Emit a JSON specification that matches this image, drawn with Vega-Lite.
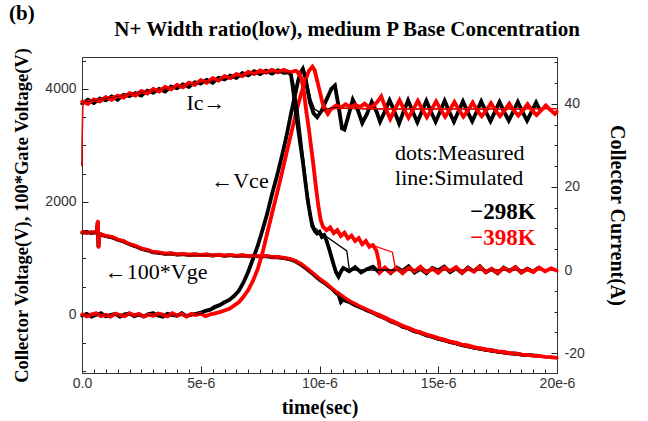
{
"$schema": "https://vega.github.io/schema/vega-lite/v6.json",
"width": 475, "height": 316,
"autosize": {"type": "none"},
"padding": {"left": 82, "top": 57, "right": 91, "bottom": 48},
"background": "white",
"config": {
 "view": {"stroke": "#333", "strokeWidth": 1},
 "axis": {"grid": false, "labelFont": "Liberation Sans", "labelFontSize": 14, "labelColor": "#333", "tickColor": "#222", "tickWidth": 1, "domainColor": "#333", "titleFont": "Liberation Serif", "titleFontWeight": "bold", "titleColor": "#000", "labelFlush": false, "labelOverlap": false, "labelSeparation": 0}
},
"datasets": {
 "m298": [
{"s":"c","t":0,"v":-15},{"s":"c","t":0.2,"v":20},{"s":"c","t":0.4,"v":-30},{"s":"c","t":0.6,"v":5},{"s":"c","t":0.8,"v":30},{"s":"c","t":1,"v":-20},{"s":"c","t":1.2,"v":0},{"s":"c","t":1.4,"v":20},{"s":"c","t":1.6,"v":-30},{"s":"c","t":1.8,"v":10},{"s":"c","t":2,"v":25},{"s":"c","t":2.2,"v":-20},{"s":"c","t":2.4,"v":5},{"s":"c","t":2.6,"v":-25},{"s":"c","t":2.8,"v":15},{"s":"c","t":3,"v":30},{"s":"c","t":3.2,"v":-10},{"s":"c","t":3.4,"v":-30},{"s":"c","t":3.6,"v":20},{"s":"c","t":3.8,"v":0},{"s":"c","t":4,"v":-15},{"s":"c","t":4.2,"v":30},{"s":"c","t":4.4,"v":-20},{"s":"c","t":4.6,"v":5},{"s":"c","t":4.8,"v":20},
{"s":"c","t":5,"v":40},{"s":"c","t":5.2,"v":75},{"s":"c","t":5.4,"v":95},{"s":"c","t":5.6,"v":145},{"s":"c","t":5.8,"v":175},{"s":"c","t":6,"v":225},{"s":"c","t":6.2,"v":265},{"s":"c","t":6.4,"v":335},{"s":"c","t":6.6,"v":425},{"s":"c","t":6.8,"v":575},{"s":"c","t":7,"v":765},{"s":"c","t":7.2,"v":995},{"s":"c","t":7.4,"v":1225},{"s":"c","t":7.6,"v":1505},{"s":"c","t":7.8,"v":1795},{"s":"c","t":8,"v":2135},{"s":"c","t":8.2,"v":2445},{"s":"c","t":8.4,"v":2785},{"s":"c","t":8.6,"v":3145},{"s":"c","t":8.8,"v":3565},{"s":"c","t":9,"v":3955},{"s":"c","t":9.1,"v":4145},{"s":"c","t":9.2,"v":4285},{"s":"c","t":9.3,"v":4355},{"s":"c","t":9.4,"v":4220},{"s":"c","t":9.5,"v":3980},{"s":"c","t":9.6,"v":3760},{"s":"c","t":9.75,"v":3570},{"s":"c","t":9.9,"v":3500},{"s":"c","t":10.1,"v":3620},{"s":"c","t":10.3,"v":3820},{"s":"c","t":10.5,"v":4000},{"s":"c","t":10.65,"v":4060},{"s":"c","t":10.8,"v":3700},{"s":"c","t":10.95,"v":3300},{"s":"c","t":11.05,"v":3280},{"s":"c","t":11.2,"v":3500},{"s":"c","t":11.4,"v":3810},{"s":"c","t":11.6,"v":3640},{"s":"c","t":11.8,"v":3400},{"s":"c","t":12,"v":3560},{"s":"c","t":12.2,"v":3770},{"s":"c","t":12.4,"v":3600},{"s":"c","t":12.55,"v":3420},{"s":"c","t":12.75,"v":3600},{"s":"c","t":12.95,"v":3800},{"s":"c","t":13.15,"v":3610},{"s":"c","t":13.35,"v":3390},{"s":"c","t":13.54,"v":3600},{"s":"c","t":13.73,"v":3800},{"s":"c","t":13.92,"v":3600},{"s":"c","t":14.12,"v":3410},{"s":"c","t":14.31,"v":3600},{"s":"c","t":14.5,"v":3790},{"s":"c","t":14.69,"v":3600},{"s":"c","t":14.89,"v":3420},{"s":"c","t":15.08,"v":3600},{"s":"c","t":15.27,"v":3790},{"s":"c","t":15.46,"v":3600},{"s":"c","t":15.66,"v":3420},{"s":"c","t":15.85,"v":3600},{"s":"c","t":16.04,"v":3780},{"s":"c","t":16.23,"v":3600},{"s":"c","t":16.43,"v":3430},{"s":"c","t":16.62,"v":3600},{"s":"c","t":16.81,"v":3780},{"s":"c","t":17,"v":3600},{"s":"c","t":17.2,"v":3430},{"s":"c","t":17.39,"v":3600},{"s":"c","t":17.58,"v":3770},{"s":"c","t":17.77,"v":3600},{"s":"c","t":17.97,"v":3440},{"s":"c","t":18.16,"v":3600},{"s":"c","t":18.35,"v":3770},{"s":"c","t":18.54,"v":3600},{"s":"c","t":18.74,"v":3440},{"s":"c","t":18.93,"v":3600},{"s":"c","t":19.12,"v":3760},{"s":"c","t":19.25,"v":3650},
{"s":"g","t":0,"v":1455},{"s":"g","t":0.2,"v":1470},{"s":"g","t":0.4,"v":1450},{"s":"g","t":0.55,"v":1465},{"s":"g","t":0.62,"v":1480},{"s":"g","t":0.66,"v":1640},{"s":"g","t":0.69,"v":1210},{"s":"g","t":0.72,"v":1380},{"s":"g","t":0.8,"v":1420},{"s":"g","t":1,"v":1395},{"s":"g","t":1.25,"v":1375},{"s":"g","t":1.5,"v":1330},{"s":"g","t":1.75,"v":1300},{"s":"g","t":2,"v":1250},{"s":"g","t":2.25,"v":1215},{"s":"g","t":2.5,"v":1170},{"s":"g","t":2.75,"v":1145},{"s":"g","t":3,"v":1110},{"s":"g","t":3.25,"v":1100},{"s":"g","t":3.5,"v":1080},{"s":"g","t":3.75,"v":1085},{"s":"g","t":4,"v":1068},{"s":"g","t":4.25,"v":1075},{"s":"g","t":4.5,"v":1062},{"s":"g","t":4.75,"v":1070},{"s":"g","t":5,"v":1058},{"s":"g","t":5.25,"v":1066},{"s":"g","t":5.5,"v":1052},{"s":"g","t":5.75,"v":1062},{"s":"g","t":6,"v":1048},{"s":"g","t":6.25,"v":1058},{"s":"g","t":6.5,"v":1043},{"s":"g","t":6.75,"v":1053},{"s":"g","t":7,"v":1038},{"s":"g","t":7.25,"v":1048},{"s":"g","t":7.5,"v":1032},{"s":"g","t":7.75,"v":1040},{"s":"g","t":8,"v":1022},{"s":"g","t":8.25,"v":1020},{"s":"g","t":8.5,"v":1005},{"s":"g","t":8.75,"v":985},{"s":"g","t":9,"v":945},{"s":"g","t":9.25,"v":880},{"s":"g","t":9.5,"v":800},{"s":"g","t":9.75,"v":715},{"s":"g","t":10,"v":625},{"s":"g","t":10.25,"v":555},{"s":"g","t":10.5,"v":475},{"s":"g","t":10.7,"v":390},{"s":"g","t":10.8,"v":360},{"s":"g","t":10.9,"v":230},{"s":"g","t":11,"v":280},{"s":"g","t":11.1,"v":250},{"s":"g","t":11.3,"v":220},{"s":"g","t":11.5,"v":170},{"s":"g","t":11.75,"v":130},{"s":"g","t":12,"v":80},{"s":"g","t":12.25,"v":40},{"s":"g","t":12.5,"v":-15},{"s":"g","t":12.75,"v":-50},{"s":"g","t":13,"v":-115},{"s":"g","t":13.25,"v":-150},{"s":"g","t":13.5,"v":-210},{"s":"g","t":13.75,"v":-240},{"s":"g","t":14,"v":-290},{"s":"g","t":14.25,"v":-315},{"s":"g","t":14.5,"v":-360},{"s":"g","t":14.75,"v":-385},{"s":"g","t":15,"v":-425},{"s":"g","t":15.25,"v":-445},{"s":"g","t":15.5,"v":-480},{"s":"g","t":15.75,"v":-500},{"s":"g","t":16,"v":-535},{"s":"g","t":16.25,"v":-550},{"s":"g","t":16.5,"v":-580},{"s":"g","t":16.75,"v":-595},{"s":"g","t":17,"v":-615},{"s":"g","t":17.25,"v":-630},{"s":"g","t":17.5,"v":-650},{"s":"g","t":17.75,"v":-660},{"s":"g","t":18,"v":-675},{"s":"g","t":18.25,"v":-685},{"s":"g","t":18.5,"v":-700},{"s":"g","t":18.75,"v":-705},{"s":"g","t":19,"v":-715},{"s":"g","t":19.2,"v":-720}
 ],
 "m398": [
{"s":"c","t":0,"v":15},{"s":"c","t":0.2,"v":-25},{"s":"c","t":0.4,"v":10},{"s":"c","t":0.6,"v":30},{"s":"c","t":0.8,"v":-20},{"s":"c","t":1,"v":5},{"s":"c","t":1.2,"v":-30},{"s":"c","t":1.4,"v":20},{"s":"c","t":1.6,"v":0},{"s":"c","t":1.8,"v":-20},{"s":"c","t":2,"v":30},{"s":"c","t":2.2,"v":-5},{"s":"c","t":2.4,"v":20},{"s":"c","t":2.6,"v":-30},{"s":"c","t":2.8,"v":5},{"s":"c","t":3,"v":-15},{"s":"c","t":3.2,"v":25},{"s":"c","t":3.4,"v":5},{"s":"c","t":3.6,"v":-25},{"s":"c","t":3.8,"v":30},{"s":"c","t":4,"v":-10},{"s":"c","t":4.2,"v":15},{"s":"c","t":4.4,"v":-30},{"s":"c","t":4.6,"v":20},{"s":"c","t":4.8,"v":0},{"s":"c","t":5,"v":25},{"s":"c","t":5.2,"v":-20},{"s":"c","t":5.4,"v":10},
{"s":"c","t":5.6,"v":30},{"s":"c","t":5.8,"v":50},{"s":"c","t":6,"v":80},{"s":"c","t":6.2,"v":110},{"s":"c","t":6.4,"v":165},{"s":"c","t":6.6,"v":225},{"s":"c","t":6.8,"v":325},{"s":"c","t":7,"v":440},{"s":"c","t":7.2,"v":605},{"s":"c","t":7.4,"v":815},{"s":"c","t":7.6,"v":1100},{"s":"c","t":7.8,"v":1450},{"s":"c","t":8,"v":1800},{"s":"c","t":8.2,"v":2135},{"s":"c","t":8.4,"v":2480},{"s":"c","t":8.6,"v":2845},{"s":"c","t":8.8,"v":3200},{"s":"c","t":9,"v":3555},{"s":"c","t":9.2,"v":3880},{"s":"c","t":9.4,"v":4150},{"s":"c","t":9.55,"v":4320},{"s":"c","t":9.7,"v":4395},{"s":"c","t":9.8,"v":4330},{"s":"c","t":9.9,"v":4150},{"s":"c","t":10,"v":3980},{"s":"c","t":10.1,"v":3800},{"s":"c","t":10.2,"v":3650},{"s":"c","t":10.35,"v":3560},{"s":"c","t":10.5,"v":3650},{"s":"c","t":10.7,"v":3710},{"s":"c","t":10.9,"v":3670},{"s":"c","t":11.1,"v":3730},{"s":"c","t":11.3,"v":3680},{"s":"c","t":11.5,"v":3720},{"s":"c","t":11.7,"v":3680},{"s":"c","t":11.9,"v":3740},{"s":"c","t":12.1,"v":3670},{"s":"c","t":12.3,"v":3710},{"s":"c","t":12.45,"v":3780},{"s":"c","t":12.6,"v":3870},{"s":"c","t":12.79,"v":3650},{"s":"c","t":12.98,"v":3470},{"s":"c","t":13.17,"v":3640},{"s":"c","t":13.37,"v":3800},{"s":"c","t":13.56,"v":3640},{"s":"c","t":13.75,"v":3490},{"s":"c","t":13.94,"v":3630},{"s":"c","t":14.14,"v":3790},{"s":"c","t":14.33,"v":3640},{"s":"c","t":14.52,"v":3500},{"s":"c","t":14.71,"v":3630},{"s":"c","t":14.91,"v":3780},{"s":"c","t":15.1,"v":3640},{"s":"c","t":15.29,"v":3510},{"s":"c","t":15.48,"v":3630},{"s":"c","t":15.68,"v":3770},{"s":"c","t":15.87,"v":3630},{"s":"c","t":16.06,"v":3510},{"s":"c","t":16.25,"v":3620},{"s":"c","t":16.45,"v":3760},{"s":"c","t":16.64,"v":3620},{"s":"c","t":16.83,"v":3520},{"s":"c","t":17.02,"v":3620},{"s":"c","t":17.22,"v":3750},{"s":"c","t":17.41,"v":3620},{"s":"c","t":17.6,"v":3520},{"s":"c","t":17.79,"v":3620},{"s":"c","t":17.99,"v":3740},{"s":"c","t":18.18,"v":3620},{"s":"c","t":18.37,"v":3530},{"s":"c","t":18.56,"v":3620},{"s":"c","t":18.76,"v":3730},{"s":"c","t":18.95,"v":3620},{"s":"c","t":19.14,"v":3540},{"s":"c","t":19.33,"v":3620},{"s":"c","t":19.53,"v":3710},{"s":"c","t":19.72,"v":3630},{"s":"c","t":19.91,"v":3560},{"s":"c","t":20,"v":3600},
{"s":"g","t":0,"v":1470},{"s":"g","t":0.2,"v":1450},{"s":"g","t":0.4,"v":1465},{"s":"g","t":0.55,"v":1455},{"s":"g","t":0.63,"v":1500},{"s":"g","t":0.67,"v":1660},{"s":"g","t":0.7,"v":1200},{"s":"g","t":0.73,"v":1400},{"s":"g","t":0.8,"v":1430},{"s":"g","t":1,"v":1400},{"s":"g","t":1.25,"v":1385},{"s":"g","t":1.5,"v":1335},{"s":"g","t":1.75,"v":1310},{"s":"g","t":2,"v":1255},{"s":"g","t":2.25,"v":1225},{"s":"g","t":2.5,"v":1175},{"s":"g","t":2.75,"v":1155},{"s":"g","t":3,"v":1115},{"s":"g","t":3.25,"v":1108},{"s":"g","t":3.5,"v":1085},{"s":"g","t":3.75,"v":1092},{"s":"g","t":4,"v":1072},{"s":"g","t":4.25,"v":1080},{"s":"g","t":4.5,"v":1066},{"s":"g","t":4.75,"v":1074},{"s":"g","t":5,"v":1062},{"s":"g","t":5.25,"v":1070},{"s":"g","t":5.5,"v":1056},{"s":"g","t":5.75,"v":1066},{"s":"g","t":6,"v":1052},{"s":"g","t":6.25,"v":1062},{"s":"g","t":6.5,"v":1047},{"s":"g","t":6.75,"v":1057},{"s":"g","t":7,"v":1042},{"s":"g","t":7.25,"v":1052},{"s":"g","t":7.5,"v":1036},{"s":"g","t":7.75,"v":1044},{"s":"g","t":8,"v":1028},{"s":"g","t":8.25,"v":1026},{"s":"g","t":8.5,"v":1012},{"s":"g","t":8.75,"v":995},{"s":"g","t":9,"v":955},{"s":"g","t":9.25,"v":895},{"s":"g","t":9.5,"v":815},{"s":"g","t":9.75,"v":730},{"s":"g","t":10,"v":640},{"s":"g","t":10.25,"v":565},{"s":"g","t":10.5,"v":475},{"s":"g","t":10.75,"v":395},{"s":"g","t":11,"v":320},{"s":"g","t":11.25,"v":250},{"s":"g","t":11.5,"v":195},{"s":"g","t":11.75,"v":140},{"s":"g","t":12,"v":95},{"s":"g","t":12.25,"v":45},{"s":"g","t":12.5,"v":5},{"s":"g","t":12.75,"v":-45},{"s":"g","t":13,"v":-95},{"s":"g","t":13.25,"v":-140},{"s":"g","t":13.5,"v":-190},{"s":"g","t":13.75,"v":-230},{"s":"g","t":14,"v":-275},{"s":"g","t":14.25,"v":-305},{"s":"g","t":14.5,"v":-345},{"s":"g","t":14.75,"v":-375},{"s":"g","t":15,"v":-410},{"s":"g","t":15.25,"v":-435},{"s":"g","t":15.5,"v":-470},{"s":"g","t":15.75,"v":-490},{"s":"g","t":16,"v":-525},{"s":"g","t":16.25,"v":-540},{"s":"g","t":16.5,"v":-570},{"s":"g","t":16.75,"v":-585},{"s":"g","t":17,"v":-610},{"s":"g","t":17.25,"v":-620},{"s":"g","t":17.5,"v":-645},{"s":"g","t":17.75,"v":-655},{"s":"g","t":18,"v":-675},{"s":"g","t":18.25,"v":-680},{"s":"g","t":18.5,"v":-700},{"s":"g","t":18.75,"v":-705},{"s":"g","t":19,"v":-720},{"s":"g","t":19.25,"v":-725},{"s":"g","t":19.5,"v":-740},{"s":"g","t":19.75,"v":-745},{"s":"g","t":20,"v":-760}
 ],
 "s298": [
{"s":"c","t":0,"v":0},{"s":"c","t":4.6,"v":0},{"s":"c","t":5,"v":25},{"s":"c","t":5.4,"v":75},{"s":"c","t":5.8,"v":150},{"s":"c","t":6.2,"v":260},{"s":"c","t":6.6,"v":440},{"s":"c","t":7,"v":760},{"s":"c","t":7.4,"v":1230},{"s":"c","t":7.8,"v":1810},{"s":"c","t":8.2,"v":2460},{"s":"c","t":8.6,"v":3160},{"s":"c","t":8.9,"v":3740},{"s":"c","t":9.1,"v":4130},{"s":"c","t":9.25,"v":4310},{"s":"c","t":9.35,"v":4320},{"s":"c","t":9.5,"v":4080},{"s":"c","t":9.65,"v":3800},{"s":"c","t":9.8,"v":3640},{"s":"c","t":10,"v":3590},{"s":"c","t":10.3,"v":3650},{"s":"c","t":10.6,"v":3670},{"s":"c","t":11,"v":3655},{"s":"c","t":12,"v":3650},{"s":"c","t":18.7,"v":3650},
{"s":"g","t":0,"v":1460},{"s":"g","t":0.65,"v":1460},{"s":"g","t":0.7,"v":1430},{"s":"g","t":1,"v":1395},{"s":"g","t":1.5,"v":1330},{"s":"g","t":2,"v":1250},{"s":"g","t":2.5,"v":1170},{"s":"g","t":3,"v":1110},{"s":"g","t":3.5,"v":1082},{"s":"g","t":4,"v":1070},{"s":"g","t":5,"v":1060},{"s":"g","t":6,"v":1050},{"s":"g","t":7,"v":1040},{"s":"g","t":8,"v":1025},{"s":"g","t":8.5,"v":1000},{"s":"g","t":9,"v":945},{"s":"g","t":9.5,"v":800},{"s":"g","t":10,"v":615},{"s":"g","t":10.5,"v":455},{"s":"g","t":11,"v":300},{"s":"g","t":11.5,"v":175},{"s":"g","t":12,"v":70},{"s":"g","t":12.5,"v":-35},{"s":"g","t":13,"v":-130},{"s":"g","t":13.5,"v":-220},{"s":"g","t":14,"v":-305},{"s":"g","t":14.5,"v":-375},{"s":"g","t":15,"v":-440},{"s":"g","t":15.5,"v":-500},{"s":"g","t":16,"v":-555},{"s":"g","t":16.5,"v":-600},{"s":"g","t":17,"v":-640},{"s":"g","t":17.5,"v":-672},{"s":"g","t":18,"v":-700},{"s":"g","t":18.7,"v":-722}
 ],
 "s398": [
{"s":"c","t":0,"v":0},{"s":"c","t":5.2,"v":0},{"s":"c","t":5.6,"v":25},{"s":"c","t":6,"v":70},{"s":"c","t":6.4,"v":150},{"s":"c","t":6.8,"v":290},{"s":"c","t":7.2,"v":570},{"s":"c","t":7.6,"v":1060},{"s":"c","t":8,"v":1730},{"s":"c","t":8.4,"v":2430},{"s":"c","t":8.8,"v":3160},{"s":"c","t":9.1,"v":3700},{"s":"c","t":9.35,"v":4120},{"s":"c","t":9.55,"v":4330},{"s":"c","t":9.7,"v":4370},{"s":"c","t":9.85,"v":4200},{"s":"c","t":10,"v":3950},{"s":"c","t":10.15,"v":3750},{"s":"c","t":10.35,"v":3630},{"s":"c","t":10.6,"v":3650},{"s":"c","t":11,"v":3665},{"s":"c","t":12,"v":3650},{"s":"c","t":20,"v":3650},
{"s":"g","t":0,"v":1465},{"s":"g","t":0.65,"v":1465},{"s":"g","t":0.7,"v":1435},{"s":"g","t":1,"v":1400},{"s":"g","t":1.5,"v":1335},{"s":"g","t":2,"v":1255},{"s":"g","t":2.5,"v":1175},{"s":"g","t":3,"v":1115},{"s":"g","t":3.5,"v":1086},{"s":"g","t":4,"v":1074},{"s":"g","t":5,"v":1064},{"s":"g","t":6,"v":1054},{"s":"g","t":7,"v":1044},{"s":"g","t":8,"v":1028},{"s":"g","t":8.5,"v":1005},{"s":"g","t":9,"v":955},{"s":"g","t":9.5,"v":815},{"s":"g","t":10,"v":630},{"s":"g","t":10.5,"v":465},{"s":"g","t":11,"v":310},{"s":"g","t":11.5,"v":180},{"s":"g","t":12,"v":75},{"s":"g","t":12.5,"v":-30},{"s":"g","t":13,"v":-125},{"s":"g","t":13.5,"v":-215},{"s":"g","t":14,"v":-300},{"s":"g","t":14.5,"v":-370},{"s":"g","t":15,"v":-435},{"s":"g","t":15.5,"v":-495},{"s":"g","t":16,"v":-548},{"s":"g","t":16.5,"v":-595},{"s":"g","t":17,"v":-635},{"s":"g","t":17.5,"v":-668},{"s":"g","t":18,"v":-695},{"s":"g","t":18.5,"v":-715},{"s":"g","t":19,"v":-735},{"s":"g","t":19.5,"v":-750},{"s":"g","t":20,"v":-765}
 ],
 "im298": [
{"t":0,"a":40.1},{"t":0.25,"a":41.0},{"t":0.5,"a":40.2},{"t":0.75,"a":41.3},{"t":1,"a":40.9},{"t":1.25,"a":41.8},{"t":1.5,"a":41.0},{"t":1.75,"a":42.2},{"t":2,"a":41.9},{"t":2.25,"a":42.6},{"t":2.5,"a":42.0},{"t":2.75,"a":43.2},{"t":3,"a":42.7},{"t":3.25,"a":43.6},{"t":3.5,"a":43.0},{"t":3.75,"a":44.2},{"t":4,"a":43.8},{"t":4.25,"a":44.7},{"t":4.5,"a":44.1},{"t":4.75,"a":45.2},{"t":5,"a":44.9},{"t":5.25,"a":45.8},{"t":5.5,"a":45.1},{"t":5.75,"a":46.3},{"t":6,"a":45.9},{"t":6.25,"a":46.8},{"t":6.5,"a":46.3},{"t":6.75,"a":47.4},{"t":7,"a":46.9},{"t":7.25,"a":47.9},{"t":7.5,"a":47.2},{"t":7.75,"a":48.0},{"t":8,"a":47.3},{"t":8.25,"a":48.1},{"t":8.5,"a":47.5},{"t":8.7,"a":47.6},{"t":8.8,"a":47.0},{"t":8.9,"a":43.0},{"t":9,"a":38.0},{"t":9.1,"a":34.0},{"t":9.2,"a":30.0},{"t":9.3,"a":26.0},{"t":9.4,"a":21.5},{"t":9.5,"a":17.0},{"t":9.6,"a":13.5},{"t":9.7,"a":10.5},{"t":9.8,"a":9.4},{"t":9.9,"a":8.8},{"t":10,"a":9.2},{"t":10.1,"a":8.0},{"t":10.2,"a":8.4},{"t":10.3,"a":7.0},{"t":10.4,"a":5.2},{"t":10.5,"a":3.2},{"t":10.6,"a":1.2},{"t":10.7,"a":-0.6},{"t":10.8,"a":-1.6},{"t":10.9,"a":-0.4},{"t":11,"a":0.5},{"t":11.25,"a":-0.3},{"t":11.5,"a":0.7},{"t":11.75,"a":-0.6},{"t":12,"a":0.2},{"t":12.25,"a":0.8},{"t":12.5,"a":-0.5},{"t":12.75,"a":0.4},{"t":13,"a":-0.7},{"t":13.25,"a":0.6},{"t":13.5,"a":-0.2},{"t":13.75,"a":0.9},{"t":14,"a":-0.6},{"t":14.25,"a":0.3},{"t":14.5,"a":-0.8},{"t":14.75,"a":0.5},{"t":15,"a":-0.1},{"t":15.25,"a":0.8},{"t":15.5,"a":-0.5},{"t":15.75,"a":0.4},{"t":16,"a":-0.7},{"t":16.25,"a":0.6},{"t":16.5,"a":-0.3},{"t":16.75,"a":0.9},{"t":17,"a":-0.5},{"t":17.25,"a":0.2},{"t":17.5,"a":-0.8},{"t":17.75,"a":0.6},{"t":18,"a":-0.2},{"t":18.25,"a":0.7},{"t":18.5,"a":-0.6},{"t":18.75,"a":0.3},{"t":19,"a":-0.4},{"t":19.2,"a":0.5}
 ],
 "im398": [
{"t":0,"a":40.6},{"t":0.25,"a":40.0},{"t":0.5,"a":41.1},{"t":0.75,"a":40.6},{"t":1,"a":41.6},{"t":1.25,"a":41.0},{"t":1.5,"a":42.0},{"t":1.75,"a":41.5},{"t":2,"a":42.6},{"t":2.25,"a":42.0},{"t":2.5,"a":43.1},{"t":2.75,"a":42.5},{"t":3,"a":43.6},{"t":3.25,"a":43.0},{"t":3.5,"a":44.1},{"t":3.75,"a":43.5},{"t":4,"a":44.6},{"t":4.25,"a":44.0},{"t":4.5,"a":45.1},{"t":4.75,"a":44.6},{"t":5,"a":45.7},{"t":5.25,"a":45.1},{"t":5.5,"a":46.2},{"t":5.75,"a":45.6},{"t":6,"a":46.7},{"t":6.25,"a":46.2},{"t":6.5,"a":47.2},{"t":6.75,"a":46.7},{"t":7,"a":47.7},{"t":7.25,"a":47.2},{"t":7.5,"a":48.1},{"t":7.75,"a":47.5},{"t":8,"a":48.2},{"t":8.25,"a":47.6},{"t":8.5,"a":48.2},{"t":8.75,"a":47.6},{"t":9,"a":48.0},{"t":9.15,"a":47.5},{"t":9.25,"a":46.0},{"t":9.35,"a":42.5},{"t":9.45,"a":38.0},{"t":9.55,"a":34.0},{"t":9.65,"a":29.5},{"t":9.75,"a":25.0},{"t":9.85,"a":20.0},{"t":9.95,"a":15.5},{"t":10.05,"a":12.0},{"t":10.15,"a":10.4},{"t":10.3,"a":9.6},{"t":10.45,"a":10.3},{"t":10.6,"a":8.9},{"t":10.75,"a":9.6},{"t":10.9,"a":8.2},{"t":11.05,"a":9.0},{"t":11.2,"a":7.6},{"t":11.35,"a":8.3},{"t":11.5,"a":7.0},{"t":11.65,"a":7.7},{"t":11.8,"a":6.2},{"t":11.95,"a":7.0},{"t":12.1,"a":5.6},{"t":12.25,"a":6.0},{"t":12.4,"a":4.6},{"t":12.5,"a":2.0},{"t":12.55,"a":-0.5},{"t":12.75,"a":0.6},{"t":13,"a":-0.6},{"t":13.25,"a":0.4},{"t":13.5,"a":-0.8},{"t":13.75,"a":0.5},{"t":14,"a":-0.3},{"t":14.25,"a":0.8},{"t":14.5,"a":-0.5},{"t":14.75,"a":0.3},{"t":15,"a":-0.7},{"t":15.25,"a":0.6},{"t":15.5,"a":-0.2},{"t":15.75,"a":0.7},{"t":16,"a":-0.6},{"t":16.25,"a":0.4},{"t":16.5,"a":-0.4},{"t":16.75,"a":0.8},{"t":17,"a":-0.5},{"t":17.25,"a":0.3},{"t":17.5,"a":-0.7},{"t":17.75,"a":0.5},{"t":18,"a":-0.3},{"t":18.25,"a":0.7},{"t":18.5,"a":-0.6},{"t":18.75,"a":0.2},{"t":19,"a":-0.5},{"t":19.25,"a":0.6},{"t":19.5,"a":-0.3},{"t":19.75,"a":0.4},{"t":20,"a":-0.2}
 ],
 "is298": [
{"t":0,"a":25},{"t":0.03,"a":40.5},{"t":1,"a":41.4},{"t":2,"a":42.4},{"t":3,"a":43.3},{"t":4,"a":44.2},{"t":5,"a":45.2},{"t":6,"a":46.2},{"t":7,"a":47.1},{"t":8,"a":47.6},{"t":8.75,"a":47.6},{"t":8.9,"a":45.5},{"t":9.1,"a":38.5},{"t":9.3,"a":28.5},{"t":9.5,"a":18.5},{"t":9.65,"a":12.5},{"t":9.8,"a":10.2},{"t":10,"a":9.2},{"t":11.15,"a":4.6},{"t":11.25,"a":0.3},{"t":11.35,"a":0},{"t":18.7,"a":0}
 ],
 "is398": [
{"t":0,"a":25},{"t":0.03,"a":40.6},{"t":1,"a":41.5},{"t":2,"a":42.5},{"t":3,"a":43.4},{"t":4,"a":44.3},{"t":5,"a":45.3},{"t":6,"a":46.3},{"t":7,"a":47.2},{"t":8,"a":47.7},{"t":9,"a":47.7},{"t":9.2,"a":46.0},{"t":9.4,"a":40.0},{"t":9.6,"a":31.0},{"t":9.8,"a":21.0},{"t":10,"a":13.0},{"t":10.15,"a":10.1},{"t":13.07,"a":4.3},{"t":13.2,"a":0.3},{"t":13.3,"a":0},{"t":20,"a":0}
 ],
 "ann": [
{"label":"Ic→","t":5.22,"v":3752},{"label":"←Vce","t":6.65,"v":2372},{"label":"←100*Vge","t":3.12,"v":761}
 ],
 "leg": [
{"label":"dots:Measured","t":13.18,"v":2867},{"label":"line:Simulated","t":13.18,"v":2425}
 ],
 "temps": [
{"label":"−298K","T":"298K","t":16.34,"v":1823},{"label":"−398K","T":"398K","t":16.34,"v":1363}
 ],
 "heads": [
{"label":"(b)","t":-2.53,"v":5330},{"label":"N+ Width ratio(low), medium P Base Concentration","t":11.16,"v":5045}
 ]
},
"layer": [
 {
  "encoding": {
   "x": {"field": "t", "type": "quantitative", "scale": {"domain": [0, 20], "nice": false, "zero": false},
    "axis": {"values": [0,0.5,1,1.5,2,2.5,3,3.5,4,4.5,5,5.5,6,6.5,7,7.5,8,8.5,9,9.5,10,10.5,11,11.5,12,12.5,13,13.5,14,14.5,15,15.5,16,16.5,17,17.5,18,18.5,19,19.5,20],
     "labelExpr": "datum.value == 0 ? '0.0' : (datum.value % 5 == 0 ? datum.value + 'e-6' : '')",
     "tickSize": {"condition": {"test": "datum.value % 5 == 0", "value": -7}, "value": -4},
     "labelOverlap": false, "labelFlush": false, "labelBound": false, "labelSeparation": 0,
     "labelPadding": 10, "title": "time(sec)", "titleFontSize": 20, "titlePadding": 4}},
   "y": {"field": "v", "type": "quantitative", "scale": {"domain": [-1027, 4566], "nice": false, "zero": false},
    "axis": {"orient": "left", "values": [-1000,-500,0,500,1000,1500,2000,2500,3000,3500,4000,4500],
     "labelExpr": "datum.value % 2000 == 0 ? '' + datum.value : ''",
     "tickSize": {"condition": {"test": "datum.value % 2000 == 0", "value": -6}, "value": -3.5},
     "labelOverlap": false,
     "labelPadding": 12, "title": "Collector Voltage(V), 100*Gate Voltage(V)", "titleFontSize": 18.5, "titlePadding": 13}}
  },
  "layer": [
   {"data": {"name": "m298"}, "encoding": {"detail": {"field": "s"}}, "layer": [
     {"mark": {"type": "line", "color": "#000000", "strokeWidth": 3.8}},
     {"mark": {"type": "point", "filled": true, "size": 11, "color": "#000000", "opacity": 1}}]},
   {"data": {"name": "m398"}, "encoding": {"detail": {"field": "s"}}, "layer": [
     {"mark": {"type": "line", "color": "#ff0000", "strokeWidth": 3.8}},
     {"mark": {"type": "point", "filled": true, "size": 11, "color": "#ff0000", "opacity": 1}}]},
   {"data": {"name": "s298"}, "encoding": {"detail": {"field": "s"}}, "mark": {"type": "line", "color": "#000000", "strokeWidth": 1.3}},
   {"data": {"name": "s398"}, "encoding": {"detail": {"field": "s"}}, "mark": {"type": "line", "color": "#ff0000", "strokeWidth": 1.3}},
   {"data": {"name": "ann"}, "mark": {"type": "text", "font": "Liberation Serif", "fontSize": 22, "align": "center", "baseline": "middle", "color": "#000"}, "encoding": {"text": {"field": "label"}}},
   {"data": {"name": "leg"}, "mark": {"type": "text", "font": "Liberation Serif", "fontSize": 22, "align": "left", "baseline": "middle", "color": "#000"}, "encoding": {"text": {"field": "label"}}},
   {"data": {"name": "temps"}, "mark": {"type": "text", "font": "Liberation Serif", "fontSize": 23, "fontWeight": "bold", "align": "left", "baseline": "middle"}, "encoding": {"text": {"field": "label"}, "color": {"field": "T", "type": "nominal", "scale": {"domain": ["298K", "398K"], "range": ["#000000", "#ff0000"]}, "legend": null}}},
   {"data": {"name": "heads"}, "mark": {"type": "text", "font": "Liberation Serif", "fontSize": 21, "fontWeight": "bold", "align": "center", "baseline": "middle", "color": "#000"}, "encoding": {"text": {"field": "label"}}}
  ]
 },
 {
  "encoding": {
   "x": {"field": "t", "type": "quantitative", "scale": {"domain": [0, 20], "nice": false, "zero": false},
    "axis": {"values": [0,0.5,1,1.5,2,2.5,3,3.5,4,4.5,5,5.5,6,6.5,7,7.5,8,8.5,9,9.5,10,10.5,11,11.5,12,12.5,13,13.5,14,14.5,15,15.5,16,16.5,17,17.5,18,18.5,19,19.5,20],
     "labelExpr": "datum.value == 0 ? '0.0' : (datum.value % 5 == 0 ? datum.value + 'e-6' : '')",
     "tickSize": {"condition": {"test": "datum.value % 5 == 0", "value": -7}, "value": -4},
     "labelOverlap": false, "labelFlush": false, "labelBound": false, "labelSeparation": 0,
     "labelPadding": 10, "title": "time(sec)", "titleFontSize": 20, "titlePadding": 4}},
   "y": {"field": "a", "type": "quantitative", "scale": {"domain": [-24.8, 51.3], "nice": false, "zero": false},
    "axis": {"orient": "right", "values": [-20,-15,-10,-5,0,5,10,15,20,25,30,35,40,45,50],
     "labelExpr": "datum.value % 20 == 0 ? '' + datum.value : ''",
     "tickSize": {"condition": {"test": "datum.value % 20 == 0", "value": -6}, "value": -3},
     "labelOverlap": false,
     "labelPadding": 13, "title": "Collector Current(A)", "titleFontSize": 20, "titlePadding": 22}}
  },
  "layer": [
   {"data": {"name": "im298"}, "layer": [
     {"mark": {"type": "line", "color": "#000000", "strokeWidth": 3.8}},
     {"mark": {"type": "point", "filled": true, "size": 11, "color": "#000000", "opacity": 1}}]},
   {"data": {"name": "im398"}, "layer": [
     {"mark": {"type": "line", "color": "#ff0000", "strokeWidth": 3.8}},
     {"mark": {"type": "point", "filled": true, "size": 11, "color": "#ff0000", "opacity": 1}}]},
   {"data": {"name": "is298"}, "mark": {"type": "line", "color": "#000000", "strokeWidth": 1.3}},
   {"data": {"name": "is398"}, "mark": {"type": "line", "color": "#ff0000", "strokeWidth": 1.3}}
  ]
 }
],
"resolve": {"scale": {"y": "independent"}}
}
